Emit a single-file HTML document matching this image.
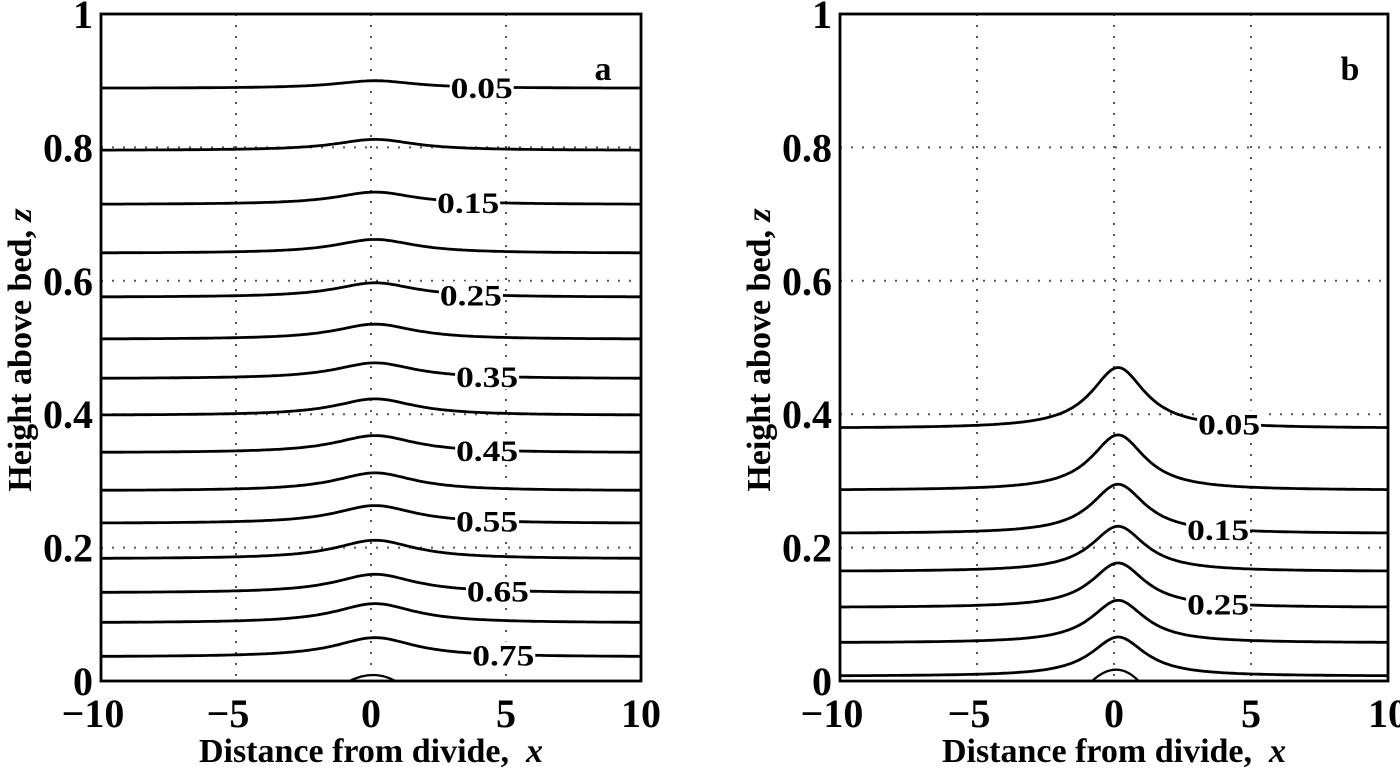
<!DOCTYPE html>
<html><head><meta charset="utf-8"><style>
html,body{margin:0;padding:0;background:#fff;}
svg{display:block;font-family:"Liberation Serif",serif;font-weight:bold;}
</style></head><body>
<svg id="chart" width="1400" height="776" viewBox="0 0 1400 776"></svg>
<script>
const xTicks=[-10,-5,0,5,10];
const yTicks=[0,0.2,0.4,0.6,0.8,1];
const yTickLabels=["0","0.2","0.4","0.6","0.8","1"];
const aLevels=[0.05,0.10,0.15,0.20,0.25,0.30,0.35,0.40,0.45,0.50,0.55,0.60,0.65,0.70,0.75];
const aBase=[0.889,0.796,0.715,0.642,0.576,0.513,0.454,0.399,0.343,0.286,0.237,0.184,0.133,0.088,0.037];
const aAmp=[0.011,0.016,0.018,0.020,0.021,0.022,0.023,0.024,0.025,0.026,0.026,0.027,0.027,0.028,0.028];
const aLabelX=[4.1,3.6,3.7,4.3,4.3,4.3,4.7,4.9];
const bLevels=[0.05,0.10,0.15,0.20,0.25,0.30,0.35];
const bBase=[0.380,0.287,0.222,0.165,0.111,0.058,0.008];
const bAmp=[0.090,0.082,0.073,0.067,0.066,0.063,0.058];
const bLabelX=[4.2,3.8,3.8];
const NS="http://www.w3.org/2000/svg";
const svg=document.getElementById('chart');
function el(t,a,p){const e=document.createElementNS(NS,t);for(const k in a)e.setAttribute(k,a[k]);(p||svg).appendChild(e);return e;}
function panel(cfg){
  const g=el('g',{});
  
  
  const X=v=>cfg.x0+(v+10)/20*(cfg.x1-cfg.x0);
  const Y=v=>cfg.y0-v*(cfg.y0-cfg.y1);
  [-5,0,5].forEach(t=>{const l=el('line',{x1:X(t),x2:X(t),y1:cfg.y1,y2:cfg.y0,stroke:'#555','stroke-width':2,'stroke-dasharray':'2 9'},g);
    });
  [0.2,0.4,0.6,0.8].forEach(t=>{const l=el('line',{x1:cfg.x0,x2:cfg.x1,y1:Y(t),y2:Y(t),stroke:'#555','stroke-width':2,'stroke-dasharray':'2 9'},g);
    });
  const f=x=>{const L=v=>1/(1+Math.pow((v-0.15)/cfg.w,2));return (L(x)-L(10))/(L(0.15)-L(10));};
  cfg.base.forEach((b,i)=>{
    let d='';for(let k=0;k<=200;k++){const x=-10+k*0.1;d+=(k?'L':'M')+X(x).toFixed(1)+','+Y(b+cfg.amp[i]*Math.max(0,f(x))).toFixed(1);}
    const p=el('path',{d:d,fill:'none',stroke:'#000','stroke-width':2.8},g);
    
  });
  const bp=el('path',{d:`M${X(-0.8)},${Y(0)} Q${X(0.1)},${Y(cfg.bump*2)} ${X(0.9)},${Y(0)}`,fill:'none',stroke:'#000','stroke-width':2.2},g);
  
  cfg.labelX.forEach((lx,j)=>{const i=j*2;const y=Y(cfg.base[i]+cfg.amp[i]*Math.max(0,f(lx)));
    el('rect',{x:X(lx)-32,y:y-13,width:64,height:26,fill:'#fff'},g);
    const t=el('text',{x:X(lx),y:y+11,'text-anchor':'middle','font-size':30,textLength:62,lengthAdjust:'spacingAndGlyphs'},g);t.textContent=cfg.levels[i].toFixed(2);
    });
  const r=el('rect',{x:cfg.x0,y:cfg.y1,width:cfg.x1-cfg.x0,height:cfg.y0-cfg.y1,fill:'none',stroke:'#000','stroke-width':2.8},g);
  
  xTicks.forEach(t=>{const tx=el('text',{x:X(t)-(t<0?8:0),y:cfg.y0+46,'text-anchor':'middle','font-size':40},g);tx.textContent=(t<0?'\u2212':'')+Math.abs(t);
    });
  yTicks.forEach((t,i)=>{const ty=el('text',{x:cfg.x0-8,y:Y(t)+14,'text-anchor':'end','font-size':40},g);ty.textContent=yTickLabels[i];
    });
  const xl=el('text',{x:(cfg.x0+cfg.x1)/2,y:762,'text-anchor':'middle','font-size':34},g);
  xl.innerHTML='Distance from divide,&#160; <tspan font-style="italic">x</tspan>';
  
  const yl=el('text',{x:0,y:0,'text-anchor':'middle','font-size':34,transform:`translate(${cfg.x0-70},350) rotate(-90)`},g);
  yl.innerHTML='Height above bed, <tspan font-style="italic">z</tspan>';
  
  const pl=el('text',{x:cfg.x1-38,y:cfg.pl,'font-size':34,'text-anchor':'middle'},g);pl.textContent=cfg.tag;
  
}
panel({name:'panel-a',x0:101,x1:641,y0:681,y1:14,w:1.8,base:aBase,amp:aAmp,levels:aLevels,labelX:aLabelX,bump:0.009,tag:'a',pl:80});
panel({name:'panel-b',x0:840,x1:1388,y0:681,y1:14,w:1.2,base:bBase,amp:bAmp,levels:bLevels,labelX:bLabelX,bump:0.017,tag:'b',pl:80});
</script>
</body></html>
